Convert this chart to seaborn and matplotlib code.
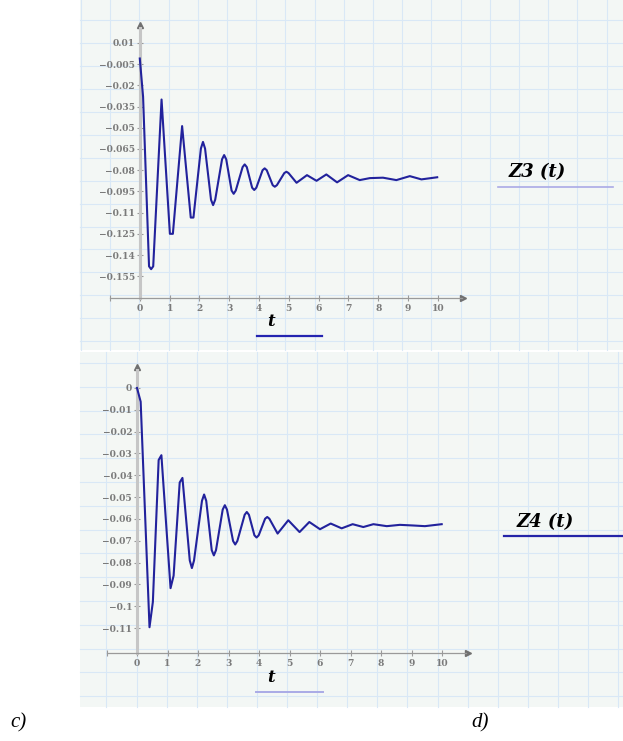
import matplotlib
matplotlib.use("Agg")
import matplotlib.pyplot as plt
import seaborn as sns
import pandas as pd
from matplotlib.patches import Rectangle

# values
t3 = [0.00, 0.11, 0.31, 0.38, 0.45, 0.73, 1.01, 1.11, 1.42, 1.71, 1.80,
      2.05, 2.12, 2.19, 2.39, 2.46, 2.53, 2.76, 2.83, 2.90, 3.08, 3.15, 3.22,
      3.45, 3.52, 3.59, 3.77, 3.84, 3.91, 4.12, 4.19, 4.26, 4.46, 4.53, 4.60,
      4.85, 4.92, 4.99, 5.26, 5.61, 5.93, 6.26, 6.62, 6.99, 7.38, 7.72, 8.16,
      8.61, 9.06, 9.45, 9.98]
z3 = [-0.001, -0.028, -0.148, -0.150, -0.148, -0.030, -0.125, -0.125, -0.0488,
      -0.1135, -0.1135,
      -0.0647, -0.060, -0.0647, -0.1009, -0.1047, -0.1009, -0.0723, -0.0693,
      -0.0723, -0.0944, -0.0967, -0.0944,
      -0.0778, -0.0759, -0.0778, -0.0924, -0.094, -0.0924, -0.0800, -0.0787,
      -0.0800, -0.0906, -0.0917, -0.0906,
      -0.0820, -0.0811, -0.0820, -0.0889, -0.0835, -0.0875, -0.0830, -0.0886,
      -0.0835, -0.0870, -0.0856, -0.0853, -0.0870, -0.0842, -0.0865, -0.0850]

t4 = [0.00, 0.12, 0.41, 0.52, 0.71, 0.80, 1.10, 1.20, 1.40, 1.49, 1.73, 1.80,
      1.87, 2.13, 2.20, 2.27, 2.45, 2.52, 2.59, 2.81, 2.88, 2.95, 3.15, 3.22,
      3.29, 3.53, 3.60, 3.67, 3.85, 3.92, 3.99, 4.20, 4.27, 4.34, 4.61, 4.96,
      5.33, 5.65, 6.00, 6.35, 6.71, 7.07, 7.42, 7.75, 8.19, 8.62, 9.06, 9.44,
      9.99]
z4 = [0.000, -0.0063, -0.1096, -0.098, -0.033, -0.0308, -0.0917, -0.086,
      -0.0433, -0.0412, -0.079, -0.0825, -0.079,
      -0.0517, -0.0488, -0.0517, -0.0743, -0.0767, -0.0743, -0.0557, -0.0537,
      -0.0557, -0.0701, -0.0717, -0.0701,
      -0.0581, -0.0568, -0.0581, -0.0675, -0.0685, -0.0675, -0.0599, -0.0591,
      -0.0599, -0.0667, -0.0606, -0.0660, -0.0614, -0.0647, -0.0621,
      -0.0643, -0.0624, -0.0637, -0.0624, -0.0633, -0.0627, -0.0630, -0.0633,
      -0.0624]

x_ticks = [-1, 0, 1, 2, 3, 4, 5, 6, 7, 8, 9, 10]
x_labels = ['', '0', '1', '2', '3', '4', '5', '6', '7', '8', '9', '10']

y3_ticks = [0.01, -0.005, -0.02, -0.035, -0.05, -0.065, -0.08, -0.095, -0.11,
            -0.125, -0.14, -0.155]
y3_labels = ['0.01', '\u22120.005', '\u22120.02', '\u22120.035', '\u22120.05',
             '\u22120.065', '\u22120.08', '\u22120.095', '\u22120.11',
             '\u22120.125', '\u22120.14', '\u22120.155']
y4_ticks = [0, -0.01, -0.02, -0.03, -0.04, -0.05, -0.06, -0.07, -0.08, -0.09,
            -0.1, -0.11]
y4_labels = ['0', '\u22120.01', '\u22120.02', '\u22120.03', '\u22120.04',
             '\u22120.05', '\u22120.06', '\u22120.07', '\u22120.08',
             '\u22120.09', '\u22120.1', '\u22120.11']

W, H = 623, 741
fig = plt.figure(figsize=(W / 100, H / 100), dpi=100)
fig.patch.set_facecolor('white')

# worksheet background (grid paper) in pixel coords
bg = fig.add_axes([0, 0, 1, 1])
bg.set_xlim(0, W)
bg.set_ylim(H, 0)
bg.axis('off')

sheet = '#f3f7f5'
gridc = '#d9e8f6'
boxc = '#f4f7f4'

bg.add_patch(Rectangle((80, 0), W - 80, 350, color=sheet, lw=0))
x = 81.0
while x < W:
    bg.plot([x, x], [0, 350], color=gridc, lw=0.8)
    x += 29.2
y = 20.0
while y < 350:
    bg.plot([80, W], [y, y], color=gridc, lw=0.8)
    y += 22.95

bg.add_patch(Rectangle((80, 351.5), W - 80, 707 - 351.5, color=sheet, lw=0))
x = 76.3
while x < W:
    if x > 80:
        bg.plot([x, x], [351.5, 707], color=gridc, lw=0.8)
    x += 30.1
y = 363.0
while y < 707:
    bg.plot([80, W], [y, y], color=gridc, lw=0.8)
    y += 23.8

# plot region boxes
bg.add_patch(Rectangle((110, 20), 358, 278, color=boxc, lw=0))
bg.add_patch(Rectangle((107, 363), 366, 290, color=boxc, lw=0))

line_col = '#22229c'


def make_axes(left, right, bottom, top, ylim, yt, ylab, t, z):
    ax = fig.add_axes([left / W, 1 - bottom / H, (right - left) / W, (bottom - top) / H])
    ax.set_facecolor('none')
    df = pd.DataFrame({'t': t, 'z': z})
    sns.lineplot(data=df, x='t', y='z', ax=ax, color=line_col, lw=1.5,
                 sort=False, estimator=None, zorder=4, solid_joinstyle='round')
    ax.set_xlim(-1, 11)
    ax.set_ylim(*ylim)
    ax.set_xlabel('')
    ax.set_ylabel('')
    for s in ['top', 'right']:
        ax.spines[s].set_visible(False)
    ax.spines['left'].set_position(('data', 0))
    ax.spines['left'].set_color('#c6c6c6')
    ax.spines['left'].set_linewidth(2.2)
    ax.spines['left'].set_bounds(ylim[0], ylim[1] - (ylim[1] - ylim[0]) * 0.01)
    ax.spines['bottom'].set_color('#9a9a9a')
    ax.spines['bottom'].set_linewidth(0.9)
    ax.spines['bottom'].set_bounds(-1, 10.8)
    ax.plot([10.85], [ylim[0]], marker='>', ms=5, color='#707070', clip_on=False)
    ax.plot([0], [ylim[1]], marker='^', ms=5, color='#707070', clip_on=False)
    ax.set_xticks(x_ticks)
    ax.set_xticklabels(x_labels)
    ax.set_yticks(yt)
    ax.set_yticklabels(ylab)
    ax.tick_params(axis='both', direction='inout', length=5, width=0.8,
                   color='#9a9a9a', labelsize=6.6, labelcolor='#7a7a7a')
    ax.tick_params(axis='x', pad=2)
    ax.tick_params(axis='y', pad=1)
    for lab in ax.get_xticklabels() + ax.get_yticklabels():
        lab.set_family('DejaVu Serif')
        lab.set_fontweight('bold')
    return ax


make_axes(110, 467.6, 298, 25, (-0.1704, 0.0227), y3_ticks, y3_labels, t3, z3)
make_axes(106.5, 472.5, 653, 367, (-0.1214, 0.0096), y4_ticks, y4_labels, t4, z4)

# labels and their underlines
lab_font = dict(family='DejaVu Serif', fontweight='bold', style='italic',
                ha='center', va='center', color='black')
bg.text(271, 322, 't', fontsize=12, **lab_font)
bg.plot([257, 322], [336, 336], color='#2424b0', lw=1.6)
bg.text(271, 677, 't', fontsize=12, **lab_font)
bg.plot([256, 323], [692, 692], color='#aaaae6', lw=1.4)

bg.text(537, 172, 'Z3 (t)', fontsize=13, **lab_font)
bg.plot([498, 613], [187, 187], color='#aaaae6', lw=1.2)
bg.text(545, 522, 'Z4 (t)', fontsize=13, **lab_font)
bg.plot([504, 623], [536, 536], color='#2424a8', lw=1.6)

bg.text(18, 723, 'c)', fontsize=15, family='Liberation Serif', style='italic',
        ha='center', va='center')
bg.text(480, 723, 'd)', fontsize=15, family='Liberation Serif', style='italic',
        ha='center', va='center')

plt.savefig('out.png', dpi=100, facecolor='white')
